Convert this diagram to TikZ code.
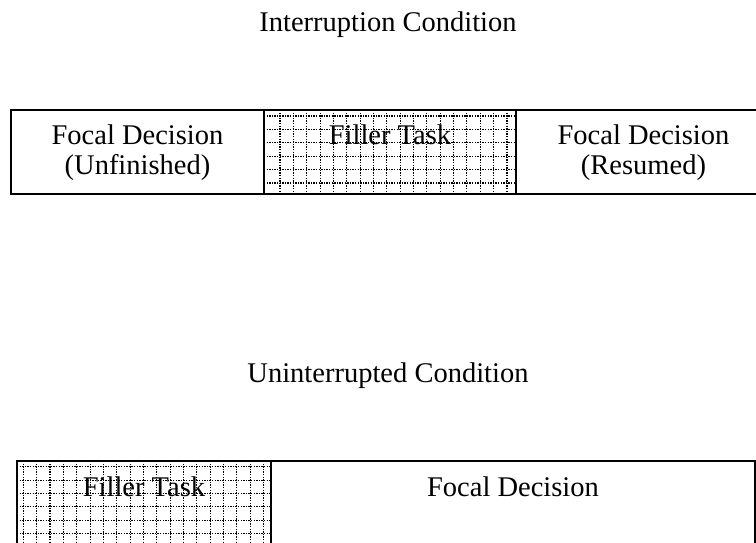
\documentclass[tikz,border=0pt]{standalone}
\usepackage{fontspec}
\setmainfont{Liberation Serif}
\begin{document}
\begin{tikzpicture}[x=1pt,y=-1pt,
  lbl/.style={font=\fontsize{28.5}{30}\selectfont, anchor=base, inner sep=0pt},
  box/.style={draw=black, line width=1.6pt},
  gridline/.style={draw=black, line width=1.1pt, dash pattern=on 1.4pt off 1.2pt}]
\clip (0,0) rectangle (756,542);
% titles
\node[lbl] (t1) at (388,31) {Interruption Condition};
\node[lbl] (t2) at (388,382) {Uninterrupted Condition};
% top row grid
\begin{scope}
\clip (264,110) rectangle (516,194);
\foreach \i in {0,...,19} {\draw[gridline] (264+16+\i*13.35,110) -- (264+16+\i*13.35,194);}
\foreach \j in {0,...,6} {\draw[gridline] (264,116+\j*13.4) -- (516,116+\j*13.4);}
\end{scope}
% bottom row grid
\begin{scope}
\clip (17,461) rectangle (271,560);
\foreach \i in {0,...,19} {\draw[gridline] (23.3+\i*13.35,461) -- (23.3+\i*13.35,560);}
\foreach \j in {0,...,7} {\draw[gridline] (17,466.7+\j*13.4) -- (271,466.7+\j*13.4);}
\end{scope}
% boxes
\draw[box] (11,110) rectangle (771,194);
\draw[box] (264,110) -- (264,194);
\draw[box] (516,110) -- (516,194);
\draw[box] (17,461) rectangle (755,570);
\draw[box] (271,461) -- (271,570);
% labels
\node[lbl] (a1) at (137.5,144) {Focal Decision};
\node[lbl] (a2) at (137.5,174) {(Unfinished)};
\node[lbl] (b1) at (390,144) {Filler Task};
\node[lbl] (c1) at (643.5,144) {Focal Decision};
\node[lbl] (c2) at (643.5,174) {(Resumed)};
\node[lbl] (d1) at (144,496) {Filler Task};
\node[lbl] (e1) at (513,496) {Focal Decision};
\end{tikzpicture}
\end{document}
